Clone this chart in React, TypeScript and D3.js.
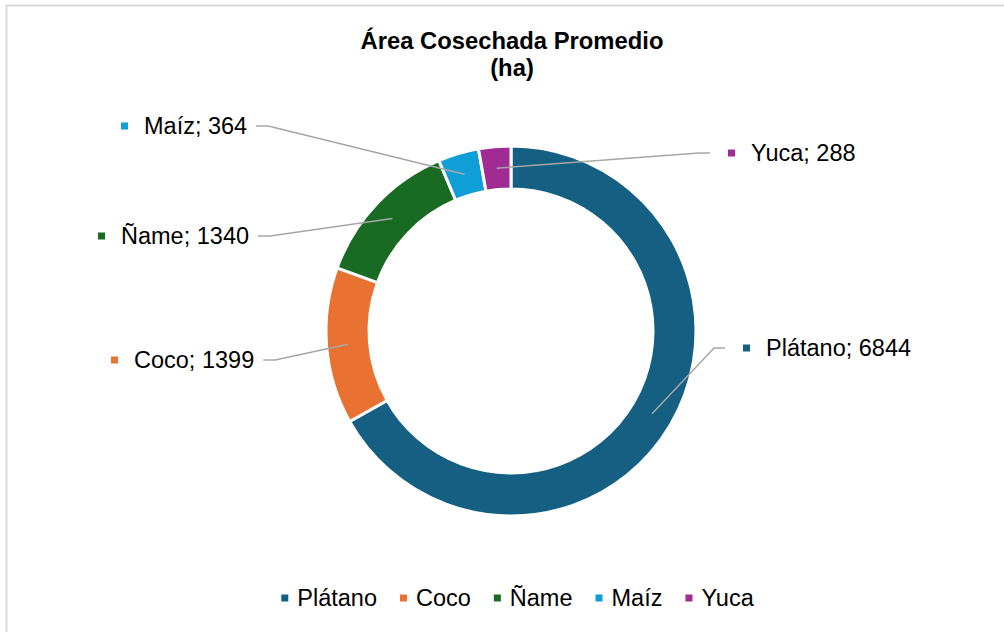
import React from "react";
import * as d3 from "d3";

const categories = ["Plátano", "Coco", "Ñame", "Maíz", "Yuca"];
const values = [6844, 1399, 1340, 364, 288];
const colors = ["#156082", "#E97132", "#196B24", "#0F9ED5", "#A02B93"];
const titleLines = ["Área Cosechada Promedio", "(ha)"];

// layout: label anchor (marker left x, center y) and side
const labelLayout = [
  { x: 743, y: 348, side: "right" },
  { x: 111, y: 360, side: "left" },
  { x: 98, y: 236, side: "left" },
  { x: 121, y: 126, side: "left" },
  { x: 728, y: 153, side: "right" },
];

const W = 1004;
const H = 632;
const FONT = "Liberation Sans, Arial, sans-serif";
const FS = 23.5;

let ctx: CanvasRenderingContext2D | null = null;
function measure(text: string, size = FS, weight = "normal") {
  if (!ctx) ctx = document.createElement("canvas").getContext("2d");
  if (!ctx) return text.length * size * 0.55;
  ctx.font = `${weight} ${size}px "Liberation Sans", Arial, sans-serif`;
  return ctx.measureText(text).width;
}

export default function App() {
  const cx = 511;
  const cy = 331;
  const R = 185;
  const r = 142;
  const data = categories.map((c, i) => ({ c, v: values[i], color: colors[i], i }));
  const pie = d3.pie<any>().value((d) => d.v).sort(null).startAngle(0).endAngle(2 * Math.PI);
  const arcs = pie(data);
  const arc = d3.arc<any>().innerRadius(r).outerRadius(R);
  const mid = (r + R) / 2;

  const markerSize = 7;
  const textGap = 16;

  // legend
  const legendY = 598;
  const items = categories.map((c) => ({ c, w: measure(c) }));
  const itemW = items.map((it) => markerSize + 9 + it.w);
  const spacing = 23;
  const total = d3.sum(itemW) + spacing * (items.length - 1);
  let lx = 517.5 - total / 2;
  const legendPos = itemW.map((w) => {
    const p = lx;
    lx += w + spacing;
    return p;
  });

  return (
    <div style={{ position: "absolute", left: 0, top: 0, width: W, height: H }}>
      <svg width={W} height={H} style={{ display: "block", fontFamily: FONT }}>
        <rect x={0} y={0} width={W} height={H} fill="#fff" />
        <path d={`M6.5,${H} V5.5 H${W}`} fill="none" stroke="#d9d9d9" strokeWidth={2} />
        {titleLines.map((t, i) => (
          <text key={i} x={512} y={49 + i * 27} textAnchor="middle" fontWeight="bold" fontSize={23.8} fill="#000">
            {t}
          </text>
        ))}
        <g transform={`translate(${cx},${cy})`}>
          {arcs.map((a, i) => (
            <path key={i} d={arc(a) as string} fill={a.data.color} stroke="#fff" strokeWidth={3} />
          ))}
        </g>
        {arcs.map((a, i) => {
          const ang = (a.startAngle + a.endAngle) / 2;
          const px = cx + mid * Math.sin(ang);
          const py = cy - mid * Math.cos(ang);
          const L = labelLayout[i];
          const label = `${a.data.c}; ${a.data.v}`;
          const tw = measure(label);
          let sx: number, bx: number;
          if (L.side === "left") {
            sx = L.x + markerSize + textGap + tw + 9;
            bx = sx + 12;
          } else {
            sx = L.x - 18;
            bx = sx - 11;
          }
          return (
            <g key={i}>
              <polyline
                points={`${sx},${L.y} ${bx},${L.y} ${px},${py}`}
                fill="none"
                stroke="#a6a6a6"
                strokeWidth={1.5}
              />
              <rect x={L.x} y={L.y - markerSize / 2} width={markerSize} height={markerSize} fill={a.data.color} />
              <text x={L.x + markerSize + textGap} y={L.y} dy="0.35em" fontSize={FS} fill="#000">
                {label}
              </text>
            </g>
          );
        })}
        {items.map((it, i) => (
          <g key={i}>
            <rect x={legendPos[i]} y={legendY - markerSize / 2} width={markerSize} height={markerSize} fill={colors[i]} />
            <text x={legendPos[i] + markerSize + 9} y={legendY} dy="0.35em" fontSize={FS} fill="#000">
              {it.c}
            </text>
          </g>
        ))}
      </svg>
    </div>
  );
}
